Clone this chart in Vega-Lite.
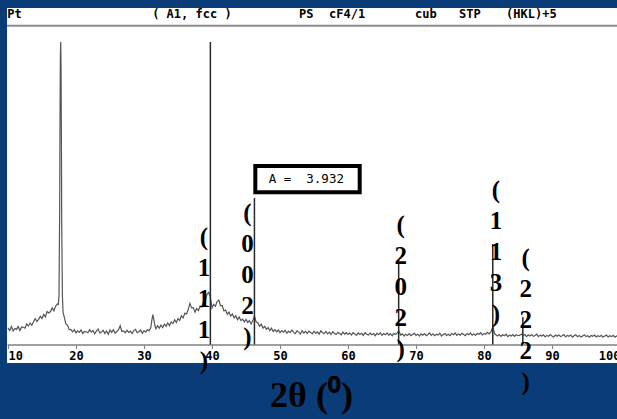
{
  "$schema": "https://vega.github.io/schema/vega-lite/v6.json",
  "width": 610,
  "height": 355,
  "autosize": {"type": "none"},
  "padding": {"left": 7, "top": 8, "right": 0, "bottom": 56},
  "background": "#0a3c78",
  "view": {"fill": "white", "stroke": null},
  "config": {
    "axisX": {
      "labelFont": "DejaVu Sans Mono",
      "labelFontWeight": "bold",
      "labelFontSize": 12,
      "labelColor": "black",
      "labelPadding": 2,
      "labelFlush": true,
      "labelOverlap": false,
      "domainColor": "#808080",
      "domainWidth": 1.5,
      "tickColor": "#808080",
      "tickSize": 4,
      "tickWidth": 1,
      "grid": false,
      "offset": -18.5,
      "titleFont": "Liberation Serif",
      "titleFontWeight": "bold",
      "titleFontSize": 36,
      "titleColor": "black",
      "titleX": 304,
      "titleY": 62,
      "titleBaseline": "alphabetic"
    }
  },
  "datasets": {
    "curve": [
      {"x":10.0,"y":5.5},{"x":10.25,"y":4.6},{"x":10.5,"y":5.9},{"x":10.75,"y":4.5},{"x":11.0,"y":5.3},{"x":11.25,"y":5.0},{"x":11.5,"y":5.9},{"x":11.75,"y":4.6},{"x":12.0,"y":5.8},{"x":12.25,"y":5.7},{"x":12.5,"y":5.4},{"x":12.75,"y":6.8},{"x":13.0,"y":6.1},{"x":13.25,"y":7.1},{"x":13.5,"y":6.3},{"x":13.75,"y":7.5},{"x":14.0,"y":8.5},{"x":14.25,"y":7.6},{"x":14.5,"y":8.3},{"x":14.75,"y":9.3},{"x":15.0,"y":8.6},{"x":15.25,"y":9.9},{"x":15.5,"y":9.1},{"x":15.75,"y":10.9},{"x":16.0,"y":10.4},{"x":16.25,"y":10.9},{"x":16.5,"y":12.1},{"x":16.75,"y":11.1},{"x":17.0,"y":12.6},{"x":17.25,"y":13.4},{"x":17.4,"y":13.2},{"x":17.5,"y":16},{"x":17.6,"y":45},{"x":17.65,"y":75},{"x":17.7,"y":95},{"x":17.75,"y":100},{"x":17.8,"y":92},{"x":17.85,"y":70},{"x":17.9,"y":40},{"x":18.0,"y":16},{"x":18.1,"y":10.5},{"x":18.25,"y":9.3},{"x":18.5,"y":6.8},{"x":18.75,"y":6.4},{"x":19.0,"y":4.9},{"x":19.25,"y":4.9},{"x":19.5,"y":4.2},{"x":19.75,"y":4.9},
      {"x":20.0,"y":3.8},{"x":20.25,"y":4.5},{"x":20.5,"y":4.0},{"x":20.75,"y":4.8},{"x":21.0,"y":3.6},{"x":21.25,"y":4.3},{"x":21.5,"y":4.2},{"x":21.75,"y":3.9},{"x":22.0,"y":4.9},{"x":22.25,"y":4.1},{"x":22.5,"y":4.6},{"x":22.75,"y":3.5},{"x":23.0,"y":4.4},{"x":23.25,"y":5.1},{"x":23.5,"y":3.8},{"x":23.75,"y":4.1},{"x":24.0,"y":4.7},{"x":24.25,"y":3.6},{"x":24.5,"y":4.5},{"x":24.75,"y":3.4},{"x":25.0,"y":4.8},{"x":25.25,"y":4.0},{"x":25.5,"y":4.9},{"x":25.75,"y":3.7},{"x":26.0,"y":4.3},{"x":26.25,"y":4.9},{"x":26.5,"y":6.2},{"x":26.75,"y":4.3},{"x":27.0,"y":4.5},{"x":27.25,"y":3.9},{"x":27.5,"y":4.7},{"x":27.75,"y":4.0},{"x":28.0,"y":4.4},{"x":28.25,"y":3.6},{"x":28.5,"y":4.6},{"x":28.75,"y":5.0},{"x":29.0,"y":3.9},{"x":29.25,"y":4.2},{"x":29.5,"y":4.8},{"x":29.75,"y":3.7},
      {"x":30.0,"y":4.6},{"x":30.25,"y":4.1},{"x":30.5,"y":4.9},{"x":30.75,"y":4.5},{"x":31.0,"y":5.6},{"x":31.15,"y":8.0},{"x":31.3,"y":9.9},{"x":31.45,"y":8.2},{"x":31.6,"y":6.2},{"x":31.75,"y":5.2},{"x":32.0,"y":6.2},{"x":32.25,"y":5.4},{"x":32.5,"y":6.4},{"x":32.75,"y":5.6},{"x":33.0,"y":6.7},{"x":33.25,"y":6.0},{"x":33.5,"y":7.1},{"x":33.75,"y":6.2},{"x":34.0,"y":7.4},{"x":34.25,"y":6.9},{"x":34.5,"y":8.2},{"x":34.75,"y":7.3},{"x":35.0,"y":8.6},{"x":35.25,"y":8.0},{"x":35.5,"y":9.5},{"x":35.75,"y":8.8},{"x":36.0,"y":10.3},{"x":36.25,"y":10.1},{"x":36.5,"y":11.5},{"x":36.75,"y":13.6},{"x":37.0,"y":12.1},{"x":37.25,"y":12.2},{"x":37.5,"y":10.7},{"x":37.75,"y":11.9},{"x":38.0,"y":11.2},{"x":38.25,"y":12.6},{"x":38.5,"y":12.4},{"x":38.75,"y":14.3},{"x":39.0,"y":14.0},{"x":39.25,"y":16.5},{"x":39.5,"y":17.2},{"x":39.75,"y":15.9},
      {"x":40.0,"y":12.1},{"x":40.25,"y":13.3},{"x":40.5,"y":12.6},{"x":40.75,"y":14.2},{"x":41.0,"y":14.7},{"x":41.25,"y":12.8},{"x":41.5,"y":12.9},{"x":41.75,"y":11.1},{"x":42.0,"y":11.4},{"x":42.25,"y":10.0},{"x":42.5,"y":10.7},{"x":42.75,"y":9.4},{"x":43.0,"y":10.1},{"x":43.25,"y":8.8},{"x":43.5,"y":9.5},{"x":43.75,"y":8.2},{"x":44.0,"y":9.1},{"x":44.25,"y":7.9},{"x":44.5,"y":8.4},{"x":44.75,"y":7.5},{"x":45.0,"y":8.3},{"x":45.25,"y":7.3},{"x":45.5,"y":7.9},{"x":45.75,"y":6.8},{"x":46.0,"y":7.9},{"x":46.25,"y":9.4},{"x":46.5,"y":7.4},{"x":46.75,"y":7.2},{"x":47.0,"y":6.0},{"x":47.25,"y":6.7},{"x":47.5,"y":5.4},{"x":47.75,"y":6.0},{"x":48.0,"y":5.0},{"x":48.25,"y":5.6},{"x":48.5,"y":4.6},{"x":48.75,"y":5.4},{"x":49.0,"y":4.3},{"x":49.25,"y":4.9},{"x":49.5,"y":4.2},{"x":49.75,"y":4.8},
      {"x":50.0,"y":3.9},{"x":50.25,"y":4.6},{"x":50.5,"y":4.1},{"x":50.75,"y":4.7},{"x":51.0,"y":3.7},{"x":51.25,"y":4.4},{"x":51.5,"y":3.9},{"x":51.75,"y":4.8},{"x":52.0,"y":4.0},{"x":52.25,"y":3.6},{"x":52.5,"y":4.5},{"x":52.75,"y":4.1},{"x":53.0,"y":3.5},{"x":53.25,"y":4.6},{"x":53.5,"y":3.8},{"x":53.75,"y":4.3},{"x":54.0,"y":3.6},{"x":54.25,"y":4.4},{"x":54.5,"y":4.0},{"x":54.75,"y":3.5},{"x":55.0,"y":4.4},{"x":55.25,"y":3.7},{"x":55.5,"y":4.2},{"x":55.75,"y":3.4},{"x":56.0,"y":4.5},{"x":56.25,"y":3.9},{"x":56.5,"y":3.6},{"x":56.75,"y":4.3},{"x":57.0,"y":3.5},{"x":57.25,"y":4.1},{"x":57.5,"y":3.3},{"x":57.75,"y":4.2},{"x":58.0,"y":3.7},{"x":58.25,"y":3.3},{"x":58.5,"y":4.0},{"x":58.75,"y":3.6},{"x":59.0,"y":3.2},{"x":59.25,"y":4.1},{"x":59.5,"y":3.4},{"x":59.75,"y":3.9},
      {"x":60.0,"y":3.3},{"x":60.25,"y":3.8},{"x":60.5,"y":3.1},{"x":60.75,"y":3.9},{"x":61.0,"y":3.5},{"x":61.25,"y":3.0},{"x":61.5,"y":3.8},{"x":61.75,"y":3.3},{"x":62.0,"y":3.7},{"x":62.25,"y":3.0},{"x":62.5,"y":3.9},{"x":62.75,"y":3.4},{"x":63.0,"y":3.1},{"x":63.25,"y":3.8},{"x":63.5,"y":3.2},{"x":63.75,"y":3.6},{"x":64.0,"y":2.9},{"x":64.25,"y":3.7},{"x":64.5,"y":3.3},{"x":64.75,"y":3.8},{"x":65.0,"y":3.0},{"x":65.25,"y":3.6},{"x":65.5,"y":3.2},{"x":65.75,"y":3.8},{"x":66.0,"y":3.1},{"x":66.25,"y":3.5},{"x":66.5,"y":2.9},{"x":66.75,"y":3.7},{"x":67.0,"y":3.3},{"x":67.25,"y":3.8},{"x":67.45,"y":4.6},{"x":67.75,"y":3.1},{"x":68.0,"y":3.5},{"x":68.25,"y":2.8},{"x":68.5,"y":3.4},{"x":68.75,"y":3.0},{"x":69.0,"y":3.6},{"x":69.25,"y":2.9},{"x":69.5,"y":3.3},{"x":69.75,"y":3.7},
      {"x":70.0,"y":3.0},{"x":70.25,"y":3.4},{"x":70.5,"y":2.8},{"x":70.75,"y":3.5},{"x":71.0,"y":3.1},{"x":71.25,"y":3.6},{"x":71.5,"y":2.9},{"x":71.75,"y":3.3},{"x":72.0,"y":3.8},{"x":72.25,"y":3.0},{"x":72.5,"y":3.5},{"x":72.75,"y":2.9},{"x":73.0,"y":3.4},{"x":73.25,"y":3.1},{"x":73.5,"y":3.7},{"x":73.75,"y":2.8},{"x":74.0,"y":3.3},{"x":74.25,"y":3.6},{"x":74.5,"y":3.0},{"x":74.75,"y":3.4},{"x":75.0,"y":2.9},{"x":75.25,"y":3.6},{"x":75.5,"y":3.2},{"x":75.75,"y":3.8},{"x":76.0,"y":3.0},{"x":76.25,"y":3.5},{"x":76.5,"y":3.1},{"x":76.75,"y":3.7},{"x":77.0,"y":3.3},{"x":77.25,"y":2.9},{"x":77.5,"y":3.6},{"x":77.75,"y":3.2},{"x":78.0,"y":3.8},{"x":78.25,"y":3.1},{"x":78.5,"y":3.5},{"x":78.75,"y":3.0},{"x":79.0,"y":3.7},{"x":79.25,"y":3.3},{"x":79.5,"y":3.9},{"x":79.75,"y":3.2},
      {"x":80.0,"y":3.6},{"x":80.25,"y":3.4},{"x":80.5,"y":4.0},{"x":80.75,"y":3.5},{"x":81.0,"y":4.1},{"x":81.3,"y":5.8},{"x":81.55,"y":3.6},{"x":81.75,"y":3.2},{"x":82.0,"y":2.8},{"x":82.25,"y":3.3},{"x":82.5,"y":2.7},{"x":82.75,"y":3.2},{"x":83.0,"y":2.9},{"x":83.25,"y":3.4},{"x":83.5,"y":2.6},{"x":83.75,"y":3.1},{"x":84.0,"y":2.8},{"x":84.25,"y":3.3},{"x":84.5,"y":2.7},{"x":84.75,"y":3.2},{"x":85.0,"y":2.9},{"x":85.25,"y":3.1},{"x":85.5,"y":3.4},{"x":85.75,"y":3.0},{"x":86.0,"y":3.3},{"x":86.25,"y":2.6},{"x":86.5,"y":3.2},{"x":86.75,"y":2.8},{"x":87.0,"y":3.3},{"x":87.25,"y":2.7},{"x":87.5,"y":3.0},{"x":87.75,"y":3.4},{"x":88.0,"y":2.6},{"x":88.25,"y":3.1},{"x":88.5,"y":2.8},{"x":88.75,"y":3.2},{"x":89.0,"y":2.5},{"x":89.25,"y":3.0},{"x":89.5,"y":2.7},{"x":89.75,"y":3.3},
      {"x":90.0,"y":2.8},{"x":90.25,"y":2.5},{"x":90.5,"y":3.1},{"x":90.75,"y":2.7},{"x":91.0,"y":3.2},{"x":91.25,"y":2.6},{"x":91.5,"y":2.9},{"x":91.75,"y":3.3},{"x":92.0,"y":2.5},{"x":92.25,"y":3.0},{"x":92.5,"y":2.7},{"x":92.75,"y":3.1},{"x":93.0,"y":2.4},{"x":93.25,"y":2.9},{"x":93.5,"y":3.2},{"x":93.75,"y":2.6},{"x":94.0,"y":3.0},{"x":94.25,"y":2.5},{"x":94.5,"y":2.8},{"x":94.75,"y":3.2},{"x":95.0,"y":2.6},{"x":95.25,"y":2.9},{"x":95.5,"y":2.4},{"x":95.75,"y":3.0},{"x":96.0,"y":2.7},{"x":96.25,"y":3.1},{"x":96.5,"y":2.5},{"x":96.75,"y":2.9},{"x":97.0,"y":2.6},{"x":97.25,"y":3.0},{"x":97.5,"y":2.4},{"x":97.75,"y":2.8},{"x":98.0,"y":3.1},{"x":98.25,"y":2.5},{"x":98.5,"y":2.9},{"x":98.75,"y":2.6},{"x":99.0,"y":3.0},{"x":99.25,"y":2.4},{"x":99.5,"y":2.8},{"x":99.75,"y":2.6},{"x":100.0,"y":2.9}
    ],
    "sticks": [
      {"x": 39.76, "y": 100, "y2": 0},
      {"x": 46.24, "y": 48.4, "y2": 0},
      {"x": 67.45, "y": 27.9, "y2": 0},
      {"x": 81.29, "y": 33.2, "y2": 0},
      {"x": 85.71, "y": 9.1, "y2": 0}
    ],
    "header": [
      {"x": 9.9, "y": 109.4, "label": "Pt"},
      {"x": 31.2, "y": 109.4, "label": "( A1, fcc )"},
      {"x": 52.79, "y": 109.4, "label": "PS"},
      {"x": 57.21, "y": 109.4, "label": "cF4/1"},
      {"x": 69.85, "y": 109.4, "label": "cub"},
      {"x": 76.32, "y": 109.4, "label": "STP"},
      {"x": 83.24, "y": 109.4, "label": "(HKL)+5"}
    ],
    "separator": [{"y": 105.4}],
    "box": [{"x": 46.37, "x2": 61.72, "y": 59.0, "y2": 50.3}],
    "boxtext": [{"x": 53.87, "y": 54.6, "label": "A = \u00a03.932"}],
    "hkl": [
      {"x": 38.82, "y": 35.5, "label": "(\n1\n1\n1\n)"},
      {"x": 45.22, "y": 43.5, "label": "(\n0\n0\n2\n)"},
      {"x": 67.75, "y": 39.5, "label": "(\n2\n0\n2\n)"},
      {"x": 81.76, "y": 51.1, "label": "(\n1\n1\n3\n)"},
      {"x": 86.13, "y": 28.6, "label": "(\n2\n2\n2\n)"}
    ]
  },
  "layer": [
    {
      "data": {"name": "curve"},
      "mark": {"type": "line", "color": "#555555", "strokeWidth": 1.2},
      "encoding": {
        "x": {"field": "x", "type": "quantitative", "scale": {"domain": [9.853, 100], "range": [0, 613], "nice": false, "zero": false}, "axis": {"title": "2θ (⁰)", "values": [10, 20, 30, 40, 50, 60, 70, 80, 90, 100]}},
        "y": {"field": "y", "type": "quantitative", "scale": {"domain": [-6.12, 111.24], "nice": false, "zero": false}, "axis": null}
      }
    },
    {
      "data": {"name": "sticks"},
      "mark": {"type": "rule", "color": "#2a2a2a", "strokeWidth": 1.5},
      "encoding": {
        "x": {"field": "x", "type": "quantitative", "scale": {"domain": [9.853, 100], "range": [0, 613], "nice": false, "zero": false}},
        "y": {"field": "y", "type": "quantitative", "scale": {"domain": [-6.12, 111.24], "nice": false, "zero": false}, "axis": null},
        "y2": {"field": "y2"}
      }
    },
    {
      "data": {"name": "separator"},
      "mark": {"type": "rule", "color": "#8c8c8c", "strokeWidth": 2},
      "encoding": {
        "y": {"field": "y", "type": "quantitative", "scale": {"domain": [-6.12, 111.24], "nice": false, "zero": false}, "axis": null}
      }
    },
    {
      "data": {"name": "header"},
      "mark": {"type": "text", "align": "left", "baseline": "middle", "font": "DejaVu Sans Mono", "fontWeight": "bold", "fontSize": 12, "color": "black"},
      "encoding": {
        "x": {"field": "x", "type": "quantitative", "scale": {"domain": [9.853, 100], "range": [0, 613], "nice": false, "zero": false}},
        "y": {"field": "y", "type": "quantitative", "scale": {"domain": [-6.12, 111.24], "nice": false, "zero": false}, "axis": null},
        "text": {"field": "label"}
      }
    },
    {
      "data": {"name": "box"},
      "mark": {"type": "rect", "fill": "white", "stroke": "black", "strokeWidth": 4},
      "encoding": {
        "x": {"field": "x", "type": "quantitative", "scale": {"domain": [9.853, 100], "range": [0, 613], "nice": false, "zero": false}},
        "x2": {"field": "x2"},
        "y": {"field": "y", "type": "quantitative", "scale": {"domain": [-6.12, 111.24], "nice": false, "zero": false}, "axis": null},
        "y2": {"field": "y2"}
      }
    },
    {
      "data": {"name": "boxtext"},
      "mark": {"type": "text", "align": "center", "baseline": "middle", "font": "DejaVu Sans Mono", "fontSize": 12.5, "color": "black"},
      "encoding": {
        "x": {"field": "x", "type": "quantitative", "scale": {"domain": [9.853, 100], "range": [0, 613], "nice": false, "zero": false}},
        "y": {"field": "y", "type": "quantitative", "scale": {"domain": [-6.12, 111.24], "nice": false, "zero": false}, "axis": null},
        "text": {"field": "label"}
      }
    },
    {
      "data": {"name": "hkl"},
      "mark": {"type": "text", "align": "center", "baseline": "middle", "font": "Liberation Serif", "fontWeight": "bold", "fontSize": 25, "lineHeight": 31, "lineBreak": "\n", "color": "black"},
      "encoding": {
        "x": {"field": "x", "type": "quantitative", "scale": {"domain": [9.853, 100], "range": [0, 613], "nice": false, "zero": false}},
        "y": {"field": "y", "type": "quantitative", "scale": {"domain": [-6.12, 111.24], "nice": false, "zero": false}, "axis": null},
        "text": {"field": "label"}
      }
    }
  ]
}
